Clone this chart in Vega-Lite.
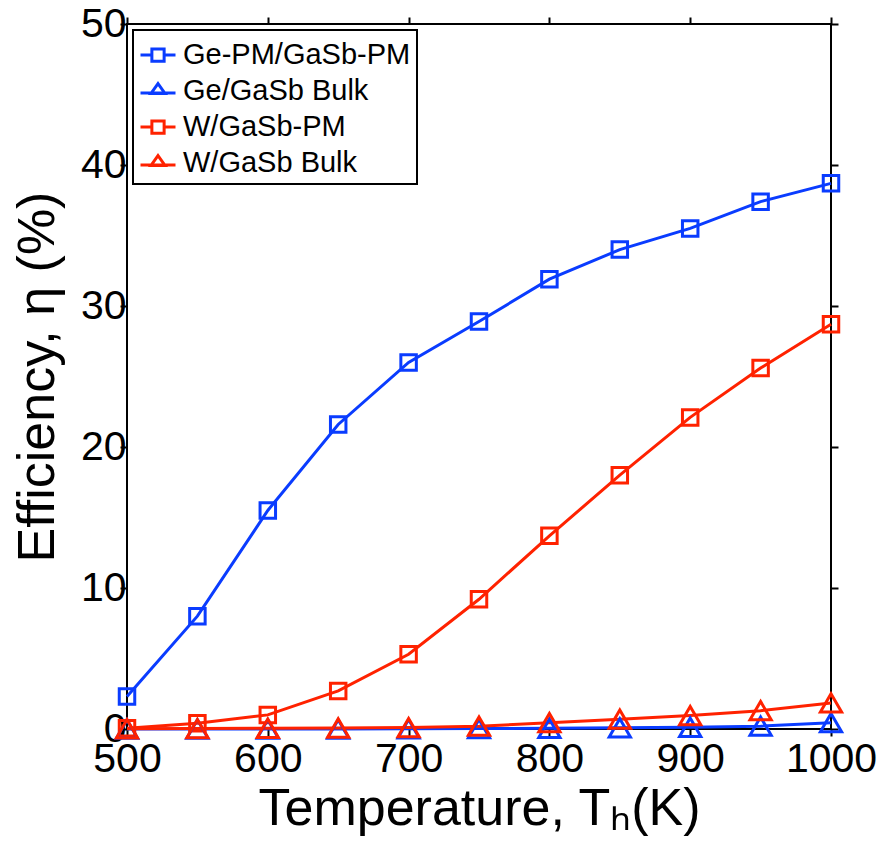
{
  "$schema": "https://vega.github.io/schema/vega-lite/v6.json",
  "autosize": "none",
  "width": 704,
  "height": 705,
  "padding": {"left": 127, "top": 24, "right": 52, "bottom": 117},
  "background": "white",
  "config": {
    "font": "Liberation Sans",
    "view": {"stroke": "black", "strokeWidth": 2},
    "axis": {
      "domain": false,
      "grid": false,
      "ticks": true,
      "tickColor": "black",
      "tickOpacity": 1,
      "tickWidth": 2,
      "tickSize": 7,
      "labelFlush": false,
      "labelOverlap": false,
      "labelFont": "Liberation Sans",
      "labelFontSize": 41,
      "labelColor": "black",
      "titleFont": "Liberation Sans",
      "titleFontSize": 52,
      "titleFontWeight": "normal",
      "titleColor": "black",
      "format": "d"
    }
  },
  "data": {
    "values": [
      {"T": 500, "eff": 2.3, "series": "Ge-PM/GaSb-PM"},
      {"T": 550, "eff": 8.0, "series": "Ge-PM/GaSb-PM"},
      {"T": 600, "eff": 15.5, "series": "Ge-PM/GaSb-PM"},
      {"T": 650, "eff": 21.6, "series": "Ge-PM/GaSb-PM"},
      {"T": 700, "eff": 26.0, "series": "Ge-PM/GaSb-PM"},
      {"T": 750, "eff": 28.9, "series": "Ge-PM/GaSb-PM"},
      {"T": 800, "eff": 31.9, "series": "Ge-PM/GaSb-PM"},
      {"T": 850, "eff": 34.0, "series": "Ge-PM/GaSb-PM"},
      {"T": 900, "eff": 35.5, "series": "Ge-PM/GaSb-PM"},
      {"T": 950, "eff": 37.4, "series": "Ge-PM/GaSb-PM"},
      {"T": 1000, "eff": 38.7, "series": "Ge-PM/GaSb-PM"},
      {"T": 500, "eff": 0.0, "series": "Ge/GaSb Bulk"},
      {"T": 550, "eff": 0.0, "series": "Ge/GaSb Bulk"},
      {"T": 600, "eff": 0.0, "series": "Ge/GaSb Bulk"},
      {"T": 650, "eff": 0.0, "series": "Ge/GaSb Bulk"},
      {"T": 700, "eff": 0.02, "series": "Ge/GaSb Bulk"},
      {"T": 750, "eff": 0.03, "series": "Ge/GaSb Bulk"},
      {"T": 800, "eff": 0.05, "series": "Ge/GaSb Bulk"},
      {"T": 850, "eff": 0.08, "series": "Ge/GaSb Bulk"},
      {"T": 900, "eff": 0.12, "series": "Ge/GaSb Bulk"},
      {"T": 950, "eff": 0.2, "series": "Ge/GaSb Bulk"},
      {"T": 1000, "eff": 0.45, "series": "Ge/GaSb Bulk"},
      {"T": 500, "eff": 0.05, "series": "W/GaSb-PM"},
      {"T": 550, "eff": 0.4, "series": "W/GaSb-PM"},
      {"T": 600, "eff": 1.0, "series": "W/GaSb-PM"},
      {"T": 650, "eff": 2.7, "series": "W/GaSb-PM"},
      {"T": 700, "eff": 5.3, "series": "W/GaSb-PM"},
      {"T": 750, "eff": 9.2, "series": "W/GaSb-PM"},
      {"T": 800, "eff": 13.7, "series": "W/GaSb-PM"},
      {"T": 850, "eff": 18.0, "series": "W/GaSb-PM"},
      {"T": 900, "eff": 22.1, "series": "W/GaSb-PM"},
      {"T": 950, "eff": 25.6, "series": "W/GaSb-PM"},
      {"T": 1000, "eff": 28.7, "series": "W/GaSb-PM"},
      {"T": 500, "eff": 0.02, "series": "W/GaSb Bulk"},
      {"T": 550, "eff": 0.03, "series": "W/GaSb Bulk"},
      {"T": 600, "eff": 0.05, "series": "W/GaSb Bulk"},
      {"T": 650, "eff": 0.07, "series": "W/GaSb Bulk"},
      {"T": 700, "eff": 0.1, "series": "W/GaSb Bulk"},
      {"T": 750, "eff": 0.2, "series": "W/GaSb Bulk"},
      {"T": 800, "eff": 0.45, "series": "W/GaSb Bulk"},
      {"T": 850, "eff": 0.7, "series": "W/GaSb Bulk"},
      {"T": 900, "eff": 0.95, "series": "W/GaSb Bulk"},
      {"T": 950, "eff": 1.3, "series": "W/GaSb Bulk"},
      {"T": 1000, "eff": 1.85, "series": "W/GaSb Bulk"}
    ]
  },
  "layer": [
    {
      "mark": {"type": "line", "strokeWidth": 3, "clip": false},
      "encoding": {
        "x": {"field": "T", "type": "quantitative", "scale": {"domain": [500, 1000], "nice": false, "zero": false},
              "axis": {"orient": "bottom", "values": [500, 600, 700, 800, 900, 1000], "title": "Temperature, Tₕ(K)", "labelPadding": 3, "titlePadding": 4}},
        "y": {"field": "eff", "type": "quantitative", "scale": {"domain": [0, 50], "nice": false},
              "axis": {"orient": "left", "values": [0, 10, 20, 30, 40, 50], "title": "Efficiency, η (%)", "labelPadding": -6, "titlePadding": 16}},
        "color": {
          "field": "series", "type": "nominal",
          "scale": {"domain": ["Ge-PM/GaSb-PM", "Ge/GaSb Bulk", "W/GaSb-PM", "W/GaSb Bulk"],
                    "range": ["#0a3cff", "#0a3cff", "#ff2200", "#ff2200"]},
          "legend": {
            "title": null,
            "orient": "top-left",
            "offset": 6,
            "padding": 6,
            "rowPadding": 2,
            "fillColor": "white",
            "strokeColor": "black",
            "cornerRadius": 0,
            "symbolSize": 1225,
            "symbolStrokeWidth": 3,
            "symbolFillColor": "transparent",
            "labelFont": "Liberation Sans",
            "labelFontSize": 29,
            "labelColor": "black",
            "labelOffset": 6,
            "labelLimit": 400,
            "encode": {
              "legend": {"update": {"strokeWidth": {"value": 2}}},
              "symbols": {
                "update": {
                  "shape": {"signal": "indexof(datum.value, 'Bulk') >= 0 ? 'M-1,0.12H1M0,-0.42L0.4,0.14H-0.4Z' : 'M-1,0H-0.35M0.35,0H1M-0.35,-0.35H0.35V0.35H-0.35Z'"},
                  "fill": {"value": "transparent"},
                  "size": {"value": 1225}
                }
              }
            }
          }
        },
        "order": {"field": "T", "type": "quantitative"}
      }
    },
    {
      "transform": [{"filter": "indexof(datum.series, 'Bulk') < 0"}],
      "mark": {"type": "point", "shape": "square", "size": 240, "filled": false, "strokeWidth": 3, "opacity": 1, "clip": false},
      "encoding": {
        "x": {"field": "T", "type": "quantitative", "axis": null},
        "y": {"field": "eff", "type": "quantitative", "axis": null},
        "color": {"field": "series", "type": "nominal", "legend": null}
      }
    },
    {
      "transform": [{"filter": "indexof(datum.series, 'Bulk') >= 0"}],
      "mark": {"type": "point", "shape": "triangle-up", "size": 450, "filled": false, "strokeWidth": 3, "opacity": 1, "clip": false},
      "encoding": {
        "x": {"field": "T", "type": "quantitative", "axis": null},
        "y": {"field": "eff", "type": "quantitative", "axis": null},
        "color": {"field": "series", "type": "nominal", "legend": null}
      }
    },
    {
      "mark": {"type": "point", "opacity": 0},
      "encoding": {
        "x": {"field": "T", "type": "quantitative",
              "axis": {"orient": "top", "values": [500, 600, 700, 800, 900, 1000], "labels": false, "title": null}},
        "y": {"field": "eff", "type": "quantitative",
              "axis": {"orient": "right", "values": [0, 10, 20, 30, 40, 50], "labels": false, "title": null}}
      }
    }
  ],
  "resolve": {"axis": {"x": "independent", "y": "independent"}}
}
